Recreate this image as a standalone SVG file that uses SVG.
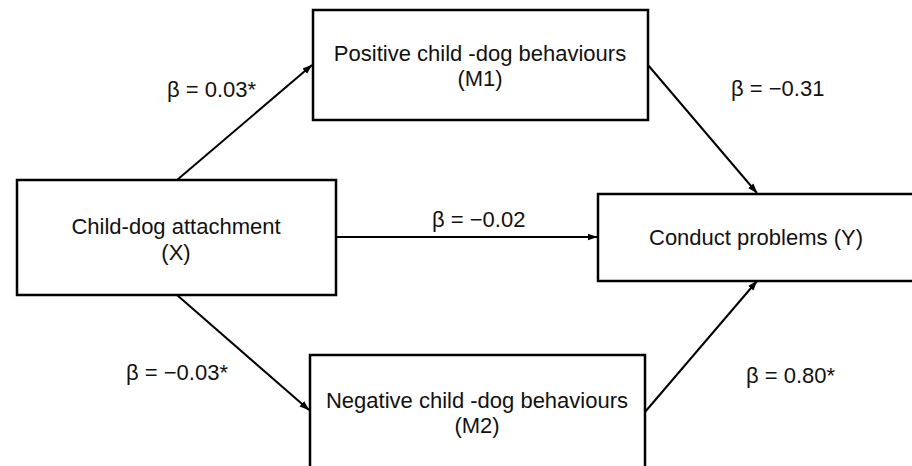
<svg xmlns="http://www.w3.org/2000/svg" width="912" height="466" viewBox="0 0 912 466">
<style>
.box{fill:#fff;stroke:#000;stroke-width:2.5}
.t{font-family:"Liberation Sans",Arial,sans-serif;font-size:22px;fill:#111;text-anchor:middle}
.l{font-family:"Liberation Sans",Arial,sans-serif;font-size:22px;fill:#111}
.c{stroke:#000;stroke-width:2;fill:none;marker-end:url(#ah)}
</style>
<defs>
<marker id="ah" viewBox="0 0 10 8" refX="9.5" refY="4" markerWidth="10" markerHeight="8" markerUnits="userSpaceOnUse" orient="auto">
<path d="M0,0.5 L10,4 L0,7.5 Z" fill="#000"/>
</marker>
</defs>
<rect width="912" height="466" fill="#fff"/>
<g id="connectors">
<line class="c" x1="177" y1="180" x2="312" y2="65"/>
<line class="c" x1="648" y1="65" x2="757" y2="193"/>
<line class="c" x1="336" y1="237" x2="597" y2="237"/>
<line class="c" x1="177" y1="295" x2="309" y2="410"/>
<line class="c" x1="645" y1="412" x2="757" y2="281"/>
</g>
<g id="labels">
<text class="l" x="167" y="97">β = 0.03*</text>
<text class="l" x="731" y="96">β = −0.31</text>
<text class="l" x="432" y="227">β = −0.02</text>
<text class="l" x="126" y="380">β = −0.03*</text>
<text class="l" x="746" y="383">β = 0.80*</text>
</g>
<g id="X">
<rect class="box" x="17" y="180" width="319" height="115"/>
<text class="t" x="176" y="234">Child-dog attachment</text>
<text class="t" x="176" y="260">(X)</text>
</g>
<g id="M1">
<rect class="box" x="313" y="10" width="335" height="110"/>
<text class="t" x="480" y="61">Positive child -dog behaviours</text>
<text class="t" x="480" y="86">(M1)</text>
</g>
<g id="Y">
<rect class="box" x="598" y="194" width="316" height="87"/>
<text class="t" x="756" y="245">Conduct problems (Y)</text>
</g>
<g id="M2">
<rect class="box" x="310" y="355" width="335" height="120"/>
<text class="t" x="477" y="408">Negative child -dog behaviours</text>
<text class="t" x="477" y="433">(M2)</text>
</g>
</svg>
